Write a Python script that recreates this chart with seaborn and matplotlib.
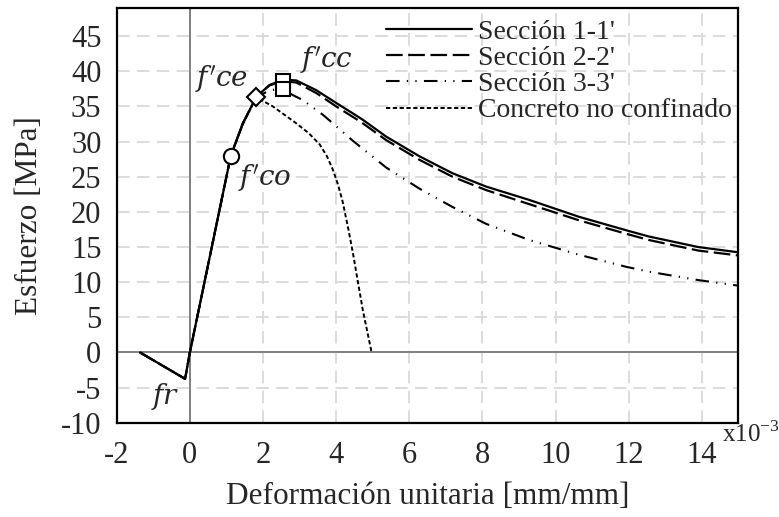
import numpy as np
import pandas as pd
import matplotlib
matplotlib.use("Agg")
import matplotlib.pyplot as plt
import seaborn as sns

# ---------------- data (strain x10^-3, stress MPa) ----------------
sec1_x = [-1.36, -0.13, 0.0, 0.5, 1.12, 1.45, 1.82, 2.18, 2.55, 2.91, 3.46, 4.0, 4.46,
          4.73, 5.37, 6.28, 7.18, 8.1, 9.28, 10.64, 11.92, 12.55, 13.9, 15.0]
sec1_y = [0.0, -3.75, 0.0, 12.5, 28.0, 32.6, 36.4, 38.05, 38.8, 38.7, 37.3, 35.5, 34.0,
          33.1, 30.7, 27.9, 25.5, 23.6, 21.7, 19.3, 17.4, 16.5, 15.0, 14.25]

sec2_x = [-1.36, -0.13, 0.0, 0.5, 1.12, 1.45, 1.82, 2.18, 2.55, 2.91, 3.46, 4.0, 4.46,
          4.73, 5.37, 6.28, 7.18, 8.1, 9.28, 10.64, 11.92, 12.55, 13.9, 15.0]
sec2_y = [0.0, -3.75, 0.0, 12.5, 28.0, 32.6, 36.4, 38.0, 38.6, 38.4, 36.9, 35.0, 33.5,
          32.6, 30.2, 27.4, 25.0, 23.1, 21.1, 18.8, 16.9, 16.0, 14.5, 13.8]

sec3_x = [-1.36, -0.13, 0.0, 0.5, 1.12, 1.45, 1.82, 2.18, 2.5, 2.82, 3.09, 3.64, 3.82,
          4.46, 5.37, 6.28, 7.18, 8.1, 9.28, 10.64, 11.92, 12.55, 13.9, 15.0]
sec3_y = [0.0, -3.75, 0.0, 12.5, 28.0, 32.6, 36.3, 37.3, 37.5, 36.6, 35.9, 33.8, 33.0,
          30.1, 26.3, 23.3, 20.7, 18.3, 16.0, 13.9, 12.2, 11.5, 10.3, 9.5]

unc_x = [-1.36, -0.13, 0.0, 0.5, 1.12, 1.45, 1.82, 2.27, 2.91, 3.25, 3.55, 3.75, 3.91,
         4.05, 4.18, 4.32, 4.46, 4.73, 4.97]
unc_y = [0.0, -3.75, 0.0, 12.5, 28.0, 32.5, 36.3, 35.0, 32.6, 31.2, 29.6, 27.9, 26.0,
         23.9, 21.4, 17.9, 14.1, 6.0, 0.0]

series_names = ["Sección 1-1'", "Sección 2-2'", "Sección 3-3'", "Concreto no confinado"]

point_x = [1.12, 1.82, 2.55, 2.55]
point_y = [28.0, 36.3, 38.6, 37.5]
point_markers = ["o", "D", "s", "s"]

label_text = [r"$f'co$", r"$f'ce$", r"$f'cc$", r"$fr$"]
label_x = [2.05, 0.87, 3.74, -0.68]
label_y = [24.8, 38.9, 41.6, -6.2]

x_ticks = [-2, 0, 2, 4, 6, 8, 10, 12, 14]
y_ticks = [-10, -5, 0, 5, 10, 15, 20, 25, 30, 35, 40, 45]

# ---------------- styling ----------------
sns.set_style("white")
plt.rcParams["font.family"] = ["Liberation Serif", "DejaVu Serif"]
plt.rcParams["mathtext.fontset"] = "custom"
plt.rcParams["mathtext.rm"] = "Liberation Serif"

fig = plt.figure(figsize=(7.79, 5.17), dpi=100)
ax = fig.add_axes([0.1498, 0.1822, 0.948 - 0.1498, 0.9845 - 0.1822])

styles = [
    dict(ls="-", lw=1.6),
    dict(ls=(0, (7.5, 2.5)), lw=1.6),
    dict(ls=(0, (6.5, 3.5, 0.6, 3.5, 0.6, 3.5)), lw=1.5),
    dict(ls=(0, (2.2, 1.3)), lw=1.4),
]
xs = [sec1_x, sec2_x, sec3_x, unc_x]
ys = [sec1_y, sec2_y, sec3_y, unc_y]

for name, x, y, st in zip(series_names, xs, ys, styles):
    df = pd.DataFrame({"x": x, "y": y})
    sns.lineplot(data=df, x="x", y="y", ax=ax, color="black", sort=False,
                 estimator=None, label=name, zorder=3, **st)

for px, py, m in zip(point_x, point_y, point_markers):
    ax.plot([px], [py], marker=m, ms=11 if m == "o" else (9.5 if m == "D" else 10.5),
            mfc="white", mec="black", mew=1.5, ls="none", zorder=5)

for t, tx, ty in zip(label_text, label_x, label_y):
    ax.text(tx, ty, t, fontsize=20, math_fontfamily="dejavuserif",
            ha="center", va="center", zorder=6)

ax.axhline(0, color="#808080", lw=1.4, zorder=2)
ax.axvline(0, color="#808080", lw=1.4, zorder=2)

ax.set_xlim(-2, 15)
ax.set_ylim(-10, 49)
ax.set_xticks(x_ticks)
ax.set_yticks(y_ticks)
ax.set_xticklabels([str(v) for v in x_ticks])
ax.set_yticklabels([str(v) for v in y_ticks])
ax.tick_params(axis="both", length=0, labelsize=22)
ax.tick_params(axis="x", pad=13)
ax.tick_params(axis="y", pad=11)
ax.grid(True, color="#d9d9d9", ls=(0, (7, 4)), lw=1.3)
ax.set_axisbelow(True)
for sp in ax.spines.values():
    sp.set_color("black")
    sp.set_linewidth(1.6)

ax.set_xlabel("Deformación unitaria [mm/mm]", fontsize=22.5, labelpad=9)
ax.set_ylabel("Esfuerzo [MPa]", fontsize=22.5, labelpad=12)

fig.text(722 / 779, 1 - 442 / 517, r"x10$^{\mathregular{-3}}$", fontsize=18,
         ha="left", va="baseline")

leg = ax.legend(loc="upper right", bbox_to_anchor=(1.0, 0.99), frameon=False,
                fontsize=20, handlelength=3.1, handletextpad=0.2, borderpad=0.15,
                borderaxespad=0.1, labelspacing=0.03)

fig.savefig("out.png", dpi=100)
